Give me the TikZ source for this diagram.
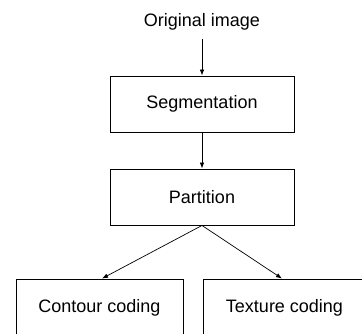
\documentclass[tikz,border=0pt]{standalone}
\usepackage{fontspec}
\setmainfont{Liberation Sans}
\usetikzlibrary{arrows.meta}
\begin{document}
\begin{tikzpicture}[x=1pt,y=-1pt,
  stagebox/.style={draw, line width=0.9pt, minimum width=184pt, minimum height=56pt,
    inner sep=0pt, font=\fontsize{18}{20}\selectfont},
  codebox/.style={draw, line width=0.9pt, minimum height=58pt,
    inner sep=0pt, font=\fontsize{18}{20}\selectfont},
  flow/.style={line width=0.7pt, -{Latex[length=6pt,width=4.5pt]}}]
  \useasboundingbox (0,0) rectangle (362,334);
  % input label and the processing chain
  \node[font=\fontsize{18}{20}\selectfont] (orig) at (202,22) {Original image};
  \node[stagebox] (seg) at (202,104) {Segmentation};
  \node[stagebox] (part) at (202,197) {Partition};
  % the two coding branches, running off the bottom and right edges
  \node[codebox, minimum width=167pt] (contour) at (99.5,308) {Contour coding};
  \node[codebox, minimum width=163pt] (texture) at (284.5,308) {Texture coding};
  % connectors
  \draw[flow] (orig.south) ++(0,5) coordinate (origfoot) (origfoot) -- (seg.north);
  \draw[flow] (seg.south) -- (part.north);
  \draw[flow] (part.south) -- ([xshift=2.5pt]contour.north);
  \draw[flow] (part.south) -- ([xshift=-2.5pt]texture.north);
\end{tikzpicture}
\end{document}
